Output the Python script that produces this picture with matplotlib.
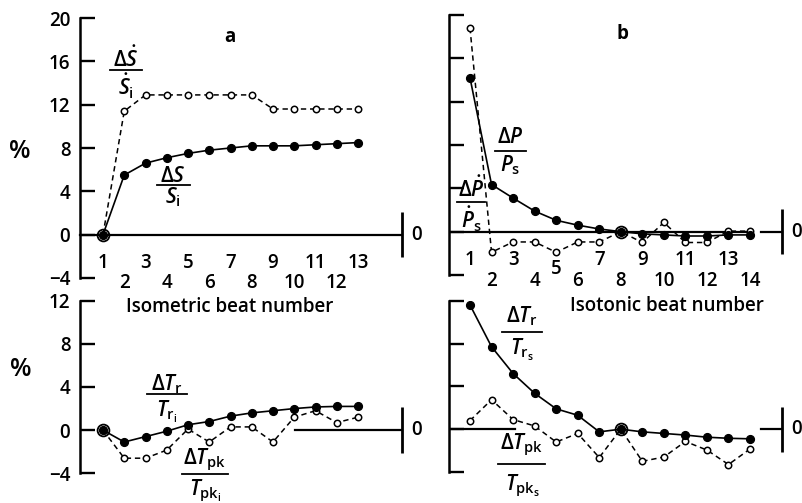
import matplotlib
matplotlib.use('Agg')
import matplotlib.pyplot as plt
from matplotlib.lines import Line2D

plt.rcParams['font.family'] = ['Open Sans', 'DejaVu Sans']
plt.rcParams['font.weight'] = 'semibold'
plt.rcParams['mathtext.fontset'] = 'custom'
plt.rcParams['mathtext.rm'] = 'Open Sans:semibold'
plt.rcParams['mathtext.it'] = 'Open Sans:italic:semibold'
plt.rcParams['mathtext.bf'] = 'Open Sans:bold'
plt.rcParams['mathtext.sf'] = 'Open Sans:semibold'
plt.rcParams['mathtext.fallback'] = 'stixsans'

# ---------------- data ----------------
beats_a = list(range(1, 14))
beats_b = list(range(1, 15))
ref_beat_a = 1
ref_beat_b = 8

a_S = [0, 5.5, 6.6, 7.1, 7.5, 7.8, 8.0, 8.2, 8.2, 8.2, 8.3, 8.4, 8.5]
a_Sdot = [0, 11.4, 12.9, 12.9, 12.9, 12.9, 12.9, 12.9, 11.6, 11.6, 11.6, 11.6, 11.6]
a_Tr = [0, -1.1, -0.6, -0.1, 0.5, 0.8, 1.3, 1.6, 1.8, 2.0, 2.15, 2.2, 2.2]
a_Tpk = [0, -2.6, -2.6, -1.85, 0.1, -1.1, 0.3, 0.3, -1.1, 1.2, 1.8, 0.7, 1.2]

b_P = [14.2, 4.35, 3.1, 1.9, 1.05, 0.6, 0.25, 0, -0.2, -0.3, -0.4, -0.4, -0.3, -0.3]
b_Pdot = [18.8, -1.9, -0.95, -0.95, -1.9, -0.95, -0.95, 0, -1.0, 0.85, -1.0, -1.0, 0.05, 0.05]
b_Tr = [11.6, 7.7, 5.2, 3.35, 1.9, 1.3, -0.25, 0, -0.25, -0.4, -0.55, -0.75, -0.85, -0.9]
b_Tpk = [0.8, 2.75, 0.9, 0.3, -1.2, -0.4, -2.65, 0, -3.0, -2.6, -1.15, -1.95, -3.3, -1.85]

yticks_top = [-4, 0, 4, 8, 12, 16, 20]
yticks_bot = [-4, 0, 4, 8, 12]
xlabel_a = 'Isometric beat number'
xlabel_b = 'Isotonic beat number'

# ---------------- layout ----------------
W, H = 802, 503
fig = plt.figure(figsize=(W / 100, H / 100), dpi=100)
FS = 13.5


def fx(x):
    return x / W


def fy(y):
    return 1 - y / H


def make_ax(l, r, t, b, x0px, dx, ylim, yticks, labels):
    ax = fig.add_axes([l / W, 1 - b / H, (r - l) / W, (b - t) / H])
    ax.patch.set_visible(False)
    ax.set_xlim(1 - (x0px - l) / dx, 1 + (r - x0px) / dx)
    ax.set_ylim(*ylim)
    for s in ['top', 'right', 'bottom']:
        ax.spines[s].set_visible(False)
    ax.spines['left'].set_linewidth(1.8)
    ax.set_xticks([])
    ax.set_yticks(yticks)
    ax.tick_params(axis='y', direction='in', length=10.5, width=1.7,
                   labelsize=FS, pad=7, labelleft=labels)
    return ax


ax_at = make_ax(80, 402, 18, 278, 103, 21.25, (-4, 20), yticks_top, True)
ax_ab = make_ax(80, 402, 300.7, 473.3, 103, 21.25, (-4, 12), yticks_bot, True)
ax_bt = make_ax(449, 782, 15, 275, 470, 21.54, (-4, 20), yticks_top, False)
ax_bb = make_ax(449, 782, 300.7, 472, 470, 21.54, (-4, 12), yticks_bot, False)


def plot_pair(ax, x, solid, dashed, ref):
    ax.plot(x, dashed, color='k', lw=1.1, ls=(0, (3.5, 2.5)), zorder=3,
            marker='o', ms=4.6, mfc='white', mec='k', mew=1.1)
    ax.plot(x, solid, color='k', lw=1.2, zorder=4,
            marker='o', ms=5.6, mfc='k', mec='k')
    ax.plot([ref], [0], marker='o', ms=8.5, mfc='none', mec='k', mew=1.3,
            zorder=5, ls='none')


def right_marker(ax, seg_from):
    x1 = ax.get_xlim()[1]
    ax.plot([seg_from, x1], [0, 0], color='k', lw=1.6, zorder=1, clip_on=False)
    ax.plot([x1, x1], [-2.1, 2.1], color='k', lw=2.0, clip_on=False,
            solid_capstyle='butt')
    ax.annotate('0', xy=(x1, 0), xytext=(6.5, 0), textcoords='offset points',
                ha='left', va='center', fontsize=FS, annotation_clip=False)


plot_pair(ax_at, beats_a, a_S, a_Sdot, ref_beat_a)
plot_pair(ax_ab, beats_a, a_Tr, a_Tpk, ref_beat_a)
plot_pair(ax_bt, beats_b, b_P, b_Pdot, ref_beat_b)
plot_pair(ax_bb, beats_b, b_Tr, b_Tpk, ref_beat_b)

# zero lines + right-hand "0" markers
right_marker(ax_at, ax_at.get_xlim()[0])
right_marker(ax_ab, 10.05)
ax_bt.plot([ax_bt.get_xlim()[0], 14], [0, 0], color='k', lw=1.6, zorder=1)
right_marker(ax_bt, 14.5)
ax_bb.plot([ax_bb.get_xlim()[0], 3.1], [0, 0], color='k', lw=1.6, zorder=1)
right_marker(ax_bb, 14.5)

# beat number labels (two staggered rows)
for b in beats_a:
    yy = -2.6 if b % 2 else -4.5
    ax_at.text(b, yy, str(b), ha='center', va='center', fontsize=FS)
for b in beats_b:
    yy = -2.65 if b % 2 else -4.6
    if b == 5:
        yy = -3.4
    ax_bt.text(b, yy, str(b), ha='center', va='center', fontsize=FS)

fig.text(fx(230), fy(307), xlabel_a, ha='center', va='center', fontsize=FS)
fig.text(fx(667), fy(306), xlabel_b, ha='center', va='center', fontsize=FS)

fig.text(fx(20), fy(152), '%', ha='center', va='center', fontsize=18)
fig.text(fx(21), fy(370), '%', ha='center', va='center', fontsize=18)

fig.text(fx(230), fy(37), 'a', ha='center', va='center', fontsize=13.5, fontweight='bold')
fig.text(fx(622), fy(34), 'b', ha='center', va='center', fontsize=13.5, fontweight='bold')


def frac(cx, y_num, y_line, y_den, x0, x1, num, den, fs=15):
    fig.text(fx(cx), fy(y_num), num, ha='center', va='baseline', fontsize=fs)
    fig.text(fx(cx), fy(y_den), den, ha='center', va='baseline', fontsize=fs)
    fig.add_artist(Line2D([fx(x0), fx(x1)], [fy(y_line), fy(y_line)],
                          color='k', lw=1.3))


frac(126, 67, 69.5, 95, 110, 142, r'$\Delta\dot{S}$', r'$\dot{S}_{\mathrm{i}}$')
frac(173, 182, 185, 203, 157, 190, r'$\Delta S$', r'$S_{\mathrm{i}}$')
frac(510, 143, 151, 171, 495, 526, r'$\Delta P$', r'$P_{\mathrm{s}}$')
frac(471, 197, 201.5, 228, 457, 485, r'$\Delta\dot{P}$', r'$\dot{P}_{\mathrm{s}}$')
frac(167, 390, 394, 417, 147, 187, r'$\Delta T_{\mathrm{r}}$', r'$T_{\mathrm{r}_{\mathrm{i}}}$')
frac(205, 464, 473.5, 495, 182, 228, r'$\Delta T_{\mathrm{pk}}$', r'$T_{\mathrm{pk}_{\mathrm{i}}}$')
frac(522, 322, 332, 355, 502, 542, r'$\Delta T_{\mathrm{r}}$', r'$T_{\mathrm{r}_{\mathrm{s}}}$')
frac(522, 449, 463.5, 490, 498, 545, r'$\Delta T_{\mathrm{pk}}$', r'$T_{\mathrm{pk}_{\mathrm{s}}}$')

fig.savefig('out.png', dpi=100)
